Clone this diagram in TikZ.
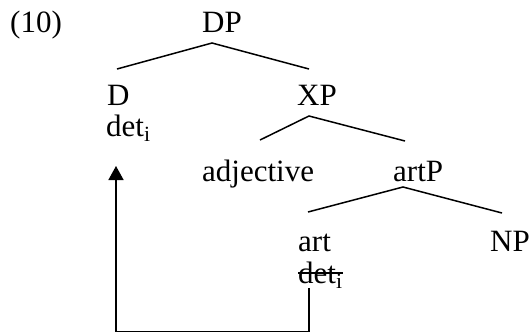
\documentclass[tikz,border=0pt]{standalone}
\usepackage{fontspec}
\setmainfont{Liberation Serif}
\usetikzlibrary{arrows.meta}
\begin{document}
\begin{tikzpicture}[x=1pt,y=-1pt,
  lbl/.style={anchor=base west, inner sep=0pt, font=\fontsize{31}{37}\selectfont},
  branch/.style={line width=1.5pt},
  mv/.style={line width=1.6pt, -{Triangle[length=14pt,width=15pt]}}]
\useasboundingbox (0,0) rectangle (531,333);
% labels
\node[lbl] (ex)   at (10,32)  {(10)};
\node[lbl] (dp)   at (202,32) {DP};
\node[lbl] (d)    at (107,105) {D};
\node[lbl] (deta) at (106,136) {det\textsubscript{i}};
\node[lbl] (xp)   at (297,105) {XP};
\node[lbl] (adj)  at (202,181) {adjective};
\node[lbl] (artp) at (393,181) {artP};
\node[lbl] (art)  at (298,251) {art};
\node[lbl] (np)   at (490,251) {NP};
\node[lbl] (detb) at (298,283) {det\textsubscript{i}};
% branch points
\coordinate (dpT) at (212,43);
\coordinate (dpL) at (117,69);
\coordinate (dpR) at (309,69);
\coordinate (xpT) at (309,116);
\coordinate (xpL) at (260,140);
\coordinate (xpR) at (405,141);
\coordinate (apT) at (403,187);
\coordinate (apL) at (308,212);
\coordinate (apR) at (502,213);
\draw[branch] (dpL) -- (dpT) -- (dpR);
\draw[branch] (xpL) -- (xpT) -- (xpR);
\draw[branch] (apL) -- (apT) -- (apR);
% strike-through
\coordinate (sA) at (298,273);
\coordinate (sB) at (343,273);
\draw[line width=1.3pt] (sA) -- (sB);
% movement arrow
\coordinate (mS) at (309,288);
\coordinate (mC1) at (309,331.5);
\coordinate (mC2) at (116,331.5);
\coordinate (mE) at (116,166);
\draw[mv] (mS) -- (mC1) -- (mC2) -- (mE);
\end{tikzpicture}
\end{document}
